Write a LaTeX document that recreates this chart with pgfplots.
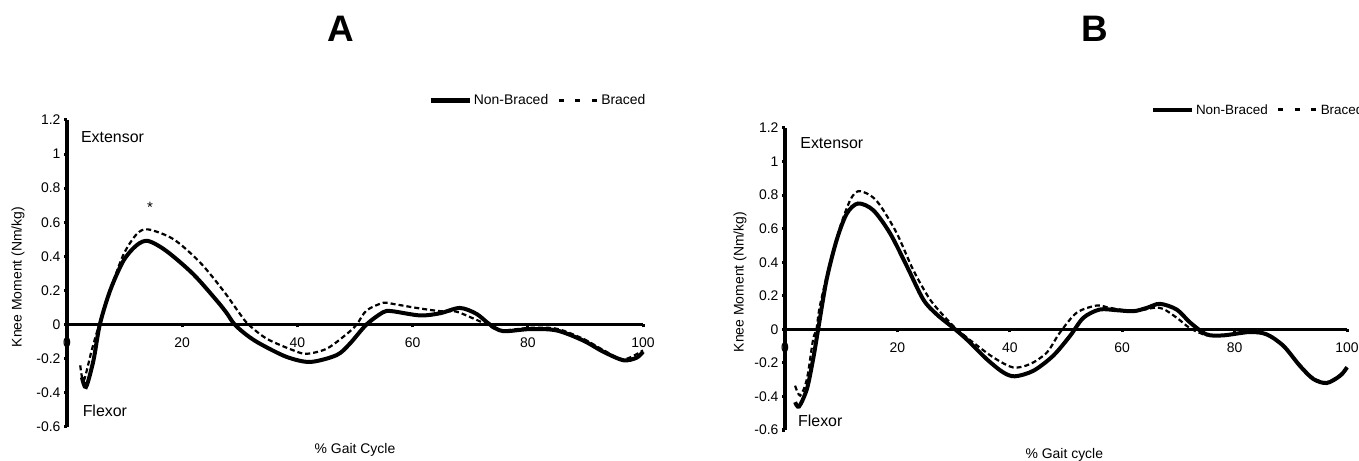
\documentclass[border=0pt]{standalone}
\usepackage{fontspec}
\setmainfont{Liberation Sans}
\usepackage{pgfplots}
\pgfplotsset{compat=1.18}

\pgfplotstableread{
x y
2.6 -0.31
3.3 -0.367
4.6 -0.21
5.7 0
7.5 0.2
9.8 0.374
12.1 0.465
14.1 0.49
17.3 0.43
21.9 0.296
26.0 0.14
27.7 0.068
29.1 0
31.2 -0.062
33.5 -0.113
38.1 -0.19
42.2 -0.22
46.8 -0.18
49.1 -0.113
52.0 0
54.9 0.072
56.4 0.078
61.3 0.053
64.8 0.066
68.2 0.097
71.1 0.062
73.4 0
75.7 -0.039
80.4 -0.027
85.0 -0.035
89.6 -0.094
93.1 -0.16
96.6 -0.21
98.9 -0.195
100 -0.16
}\nonbracedA

\pgfplotstableread{
x y
2.3 -0.24
2.9 -0.33
4.3 -0.15
5.6 0
7.5 0.2
9.8 0.41
12.1 0.53
14.1 0.558
18.5 0.50
23.1 0.364
27.1 0.2
30.0 0.063
31.5 0
34.7 -0.084
39.3 -0.152
41.6 -0.172
45.1 -0.142
48.6 -0.055
50.3 0
52.0 0.082
54.9 0.127
56.7 0.12
60.7 0.097
64.8 0.078
67.5 0.076
70.0 0.043
72.9 0
75.2 -0.035
80.4 -0.02
85.0 -0.025
89.6 -0.084
93.1 -0.15
96.6 -0.205
100 -0.152
}\bracedA

\pgfplotstableread{
x y
1.8 -0.434
2.5 -0.46
3.9 -0.355
5.0 -0.178
5.9 0
7.4 0.296
9.2 0.533
11.0 0.69
13.0 0.75
15.7 0.71
18.7 0.572
21.7 0.375
24.6 0.178
27.0 0.089
29.9 0.01
32.3 -0.059
35.9 -0.178
38.8 -0.256
40.9 -0.28
44.2 -0.247
47.7 -0.158
50.7 -0.04
53.1 0.069
56.0 0.118
59.0 0.114
62.0 0.108
64.4 0.128
66.7 0.152
69.7 0.118
72.1 0.04
75.0 -0.03
78.0 -0.036
82.7 -0.016
85.7 -0.03
88.7 -0.099
91.6 -0.217
94.0 -0.296
96.4 -0.32
98.8 -0.276
100 -0.227
}\nonbracedB

\pgfplotstableread{
x y
1.8 -0.336
2.7 -0.395
3.9 -0.296
5.0 -0.06
5.6 0
6.2 0.138
8.0 0.395
9.8 0.61
11.6 0.77
13.0 0.823
15.1 0.80
16.9 0.74
19.9 0.572
22.8 0.355
25.8 0.178
28.8 0.06
30.6 0
33.5 -0.079
37.1 -0.168
40.6 -0.227
43.6 -0.207
46.6 -0.138
48.9 -0.02
51.9 0.099
55.5 0.142
57.8 0.128
62.0 0.108
65.6 0.128
67.3 0.122
69.7 0.069
71.5 0.02
72.4 0
75.0 -0.035
78.0 -0.035
82.7 -0.02
85.7 -0.033
88.7 -0.1
91.6 -0.21
94.0 -0.29
96.4 -0.315
98.8 -0.27
100 -0.22
}\bracedB

\pgfplotsset{
 kneeaxis/.style={
  scale only axis,
  xmin=0, xmax=100, ymin=-0.6, ymax=1.2,
  axis y line=left, axis x line=middle,
  axis line style={line width=3.5bp, -, black},
  hide obscured x ticks=false,
  hide obscured y ticks=false,
  xtick={0,20,40,60,80,100},
  xticklabels={0,20,40,60,80,100},
  ytick={-0.6,-0.4,-0.2,0,0.2,0.4,0.6,0.8,1,1.2},
  yticklabels={-0.6,-0.4,-0.2,0,0.2,0.4,0.6,0.8,1,1.2},
  tick style={line width=3bp, black},
  major tick length=3bp,
  tick align=outside,
  ticklabel style={font=\fontsize{14}{16}\selectfont},
  xticklabel style={yshift=-7bp},
  label style={font=\fontsize{14}{16}\selectfont},
  clip=false,
  legend columns=2,
  legend image code/.code={\draw[#1] (0bp,0bp) -- (39bp,0bp);},
  legend style={draw=none, fill=none, inner sep=0pt, font=\fontsize{14}{16}\selectfont,
    /tikz/every even column/.append style={column sep=7bp}},
  nb/.style={black, line width=4bp, smooth, tension=0.5},
  br/.style={black, line width=2.2bp, dash pattern=on 5bp off 3bp, smooth, tension=0.5},
 }
}

\begin{document}
\begin{tikzpicture}
\useasboundingbox (0,0) rectangle (1359bp,461bp);
\node[font=\fontsize{37}{40}\selectfont\bfseries] at (341bp,432bp) {A};
\node[font=\fontsize{37}{40}\selectfont\bfseries] at (1095bp,432bp) {B};

\begin{axis}[kneeaxis,
  at={(67bp,34.3bp)}, anchor=south west,
  width=576bp, height=306.7bp,
  xlabel={\% Gait Cycle},
  ylabel={Knee Moment (Nm/kg)},
  xlabel style={at={(axis description cs:0.5,-0.076)}, anchor=center},
  ylabel style={at={(axis description cs:-0.085,0.488)}, anchor=center},
  legend style={at={(rel axis cs:0.627,1.063)}, anchor=west},
]
\addplot[nb, forget plot] table[x=x,y=y] {\nonbracedA};
\addplot[br, forget plot] table[x=x,y=y] {\bracedA};
\addlegendimage{black, line width=4.5bp}
\addlegendimage{black, line width=3bp, dash pattern=on 5bp off 11.5bp}
\legend{Non-Braced, Braced}
\node[anchor=base west, inner sep=0pt, font=\fontsize{16}{18}\selectfont] at (axis cs:2.4,1.07) {Extensor};
\node[anchor=base west, inner sep=0pt, font=\fontsize{16}{18}\selectfont] at (axis cs:2.7,-0.542) {Flexor};
\node[inner sep=0pt, font=\fontsize{15}{17}\selectfont] at (axis cs:14.4,0.69) {*};
\end{axis}

\begin{axis}[kneeaxis,
  at={(785bp,31bp)}, anchor=south west,
  width=562bp, height=302bp,
  xlabel={\% Gait cycle},
  ylabel={Knee Moment (Nm/kg)},
  xlabel style={at={(axis description cs:0.497,-0.083)}, anchor=center},
  ylabel style={at={(axis description cs:-0.08,0.49)}, anchor=center},
  legend style={at={(rel axis cs:0.65,1.06)}, anchor=west, font=\fontsize{13.5}{15}\selectfont},
]
\addplot[nb, forget plot] table[x=x,y=y] {\nonbracedB};
\addplot[br, forget plot] table[x=x,y=y] {\bracedB};
\addlegendimage{black, line width=4.5bp}
\addlegendimage{black, line width=3bp, dash pattern=on 5bp off 11.5bp}
\legend{Non-Braced, Braced}
\node[anchor=base west, inner sep=0pt, font=\fontsize{16}{18}\selectfont] at (axis cs:2.7,1.079) {Extensor};
\node[anchor=base west, inner sep=0pt, font=\fontsize{16}{18}\selectfont] at (axis cs:2.3,-0.58) {Flexor};
\end{axis}
\end{tikzpicture}
\end{document}
